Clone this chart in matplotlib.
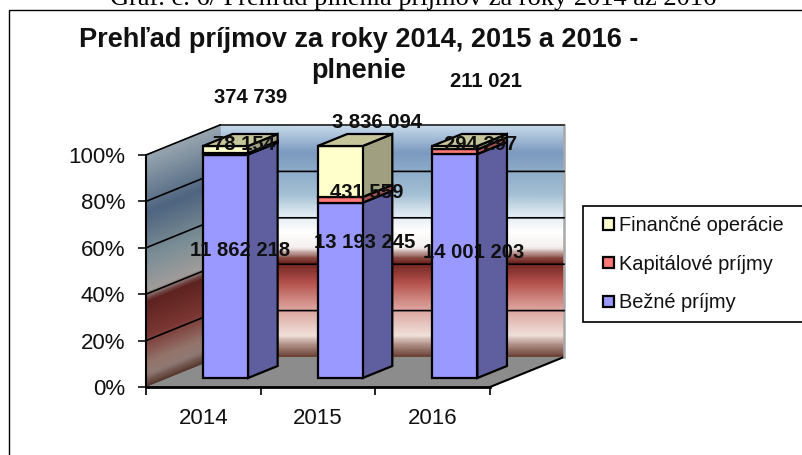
"""
Stacked 3D style percentage columns of yearly revenue, drawn by hand on a flat axes.
"""

import matplotlib

matplotlib.use("Agg")
import matplotlib.pyplot as plt
import numpy as np
from matplotlib.colors import LinearSegmentedColormap, to_rgb
from matplotlib.legend_handler import HandlerPatch
from matplotlib.patches import Patch, Polygon, Rectangle

plt.rcParams["font.family"] = ["Liberation Sans", "DejaVu Sans"]

years = ["2014", "2015", "2016"]
series_names = ["Bežné príjmy", "Kapitálové príjmy", "Finančné operácie"]
bezne = [11862218, 13193245, 14001203]
kapitalove = [78154, 431559, 294297]
financne = [374739, 3836094, 211021]
value_labels = [
    ["11 862 218", "13 193 245", "14 001 203"],
    ["78 154", "431 559", "294 297"],
    ["374 739", "3 836 094", "211 021"],
]
title_lines = ["Prehľad príjmov za roky 2014, 2015 a 2016 -", "plnenie"]
caption = "Graf. č. 6/ Prehľad plnenia príjmov za roky 2014 až 2016"

# styles
front_colors = ["#9999ff", "#ff7878", "#ffffcc"]
side_colors = ["#5f5f9f", "#a05050", "#a0a080"]
top_colors = ["#8080c0", "#c06060", "#c6c69a"]
# label offsets in pixels from the middle of each segment on the front plane
label_offsets = [
    [(37, 25), (47, 57), (41, 23)],
    [(41, 18), (49, 16), (48, 16)],
    [(47, 61), (59, 58), (53, 75)],
]
wall_stops = [
    (0.00, "#c8dcea"), (0.12, "#7c9abf"), (0.30, "#a4c0d4"), (0.38, "#dce8f0"),
    (0.46, "#ffffff"), (0.53, "#f4f0ee"), (0.575, "#8a4a44"), (0.595, "#6e2420"),
    (0.68, "#b4504c"), (0.78, "#d89a94"), (0.91, "#f0e0da"), (0.95, "#b09088"),
    (1.00, "#6e4438"),
]
side_stops = [
    (0.00, "#98a6b0"), (0.25, "#4f6580"), (0.45, "#7d8f96"), (0.59, "#a09c9a"),
    (0.635, "#5e2320"), (0.78, "#7a3632"), (0.90, "#94756c"), (0.95, "#8f7a74"),
    (1.00, "#5a3a30"),
]
DEPTH_X = 74 / (344 / 3)  # category units
DEPTH_Y = 30 / 2.32  # percent units
BAR_WIDTH = 45 / (344 / 3)
BAR_DEPTH = (0.3, 0.7)
W, H = 803, 455


def project(x, y, depth):
    return x + depth * DEPTH_X, y + depth * DEPTH_Y


def make_cmap(stops):
    return LinearSegmentedColormap.from_list("wall", [(p, to_rgb(c)) for p, c in stops])


def draw_wall(ax, x0, x1, d0, d1, stops):
    """Gradient wall between two ground points, seen from the front."""
    frac = np.linspace(0, 1, 300)
    pct = 100 * (1 - frac)
    xs = np.array([project(x0, 0, d0)[0], project(x1, 0, d1)[0]])
    ys = np.array([project(x0, p, d0)[1] for p in pct])
    ys2 = np.array([project(x1, p, d1)[1] for p in pct])
    xx = np.tile(xs, (300, 1))
    yy = np.column_stack((ys, ys2))
    cc = np.column_stack((frac, frac))
    ax.pcolormesh(
        xx, yy, cc, cmap=make_cmap(stops), vmin=0, vmax=1,
        shading="gouraud", zorder=1, clip_on=False,
    )


def square_handle(legend, orig_handle, xdescent, ydescent, width, height, fontsize):
    # small square pushed to the right end of the handle box
    side = 8.0
    return Rectangle((width - side - xdescent, (height - side) / 2 - ydescent), side, side)


fig = plt.figure(figsize=(W / 100, H / 100), dpi=100)
ax = fig.add_axes([146 / W, 1 - 387 / H, 344 / W, 232 / H])
ax.set_xlim(0, 3)
ax.set_ylim(0, 100)
ax.patch.set_visible(False)

# walls and floor
draw_wall(ax, 0, 3, 1, 1, wall_stops)
draw_wall(ax, 0, 0, 0, 1, side_stops)
floor = [project(0, 0, 0), project(3, 0, 0), project(3, 0, 1), project(0, 0, 1)]
ax.add_patch(Polygon(floor, fc="#8c8c8c", ec="none", zorder=1.5, clip_on=False))
ax.plot(*zip(project(3, 0, 0), project(3, 0, 1)), color="black", lw=1.5, zorder=2, clip_on=False)
ax.plot(*zip(project(3, 0, 1), project(3, 100, 1)), color="#a8a8a8", lw=1.8, zorder=2, clip_on=False)
ax.plot(*zip(project(0, 100, 1), project(3, 100, 1)), color="#202020", lw=1.2, zorder=2, clip_on=False)

for pct in range(20, 101, 20):
    pts = [project(0, pct, 0), project(0, pct, 1)]
    if pct < 100:
        pts.append(project(3, pct, 1))
    ax.plot(*zip(*pts), color="black", lw=1.2, zorder=2, clip_on=False)

# columns
stack = np.array([bezne, kapitalove, financne], dtype=float)
shares = 100 * stack / stack.sum(axis=0)
bottoms = np.vstack((np.zeros(3), np.cumsum(shares, axis=0)[:-1]))
d0, d1 = BAR_DEPTH
edge = dict(ec="black", lw=1.6, joinstyle="miter", clip_on=False)

for i in range(len(years)):
    left = i + 0.5 - BAR_WIDTH / 2
    right = left + BAR_WIDTH
    for s in range(3):
        y0 = bottoms[s, i]
        y1 = y0 + shares[s, i]
        z = 3 + s * 0.1
        front = [project(left, y0, d0), project(right, y0, d0), project(right, y1, d0), project(left, y1, d0)]
        side = [project(right, y0, d0), project(right, y0, d1), project(right, y1, d1), project(right, y1, d0)]
        ax.add_patch(Polygon(side, fc=side_colors[s], zorder=z, **edge))
        ax.add_patch(Polygon(front, fc=front_colors[s], zorder=z, **edge))
    top = [project(left, 100, d0), project(right, 100, d0), project(right, 100, d1), project(left, 100, d1)]
    ax.add_patch(Polygon(top, fc=top_colors[2], zorder=3.5, **edge))

# value labels
for s in range(3):
    for i in range(len(years)):
        mid = bottoms[s, i] + shares[s, i] / 2
        dx, dy = label_offsets[s][i]
        ax.annotate(
            value_labels[s][i], xy=(i + 0.5, mid),
            xytext=(dx * 0.72, dy * 0.72), textcoords="offset points",
            ha="center", va="center", fontsize=14.6, fontweight="bold",
            color="#101010", zorder=6, annotation_clip=False,
        )

# axes
for name in ("top", "right"):
    ax.spines[name].set_visible(False)
ax.spines["left"].set_linewidth(1.5)
ax.spines["bottom"].set_linewidth(2)
ax.set_yticks(range(0, 101, 20), [f"{p}%" for p in range(0, 101, 20)])
ax.set_xticks(range(4), [""] * 4)
ax.set_xticks([0.5, 1.5, 2.5], years, minor=True)
ax.tick_params(axis="y", length=6, width=1.2, labelsize=16, pad=9, colors="#111111")
ax.tick_params(axis="x", which="major", length=6, width=1.2)
ax.tick_params(axis="x", which="minor", length=0, labelsize=16, pad=15, labelcolor="#111111")

# legend
handles = [Patch(fc=c, ec="black", lw=1.6) for c in front_colors[::-1]]
legend = fig.legend(
    handles, series_names[::-1],
    handler_map={Patch: HandlerPatch(patch_func=square_handle)},
    loc="upper left", bbox_to_anchor=(583 / W, 1 - 322 / H, 240 / W, 116 / H), mode="expand",
    fontsize=14.4, frameon=True, fancybox=False, framealpha=1, edgecolor="black",
    handlelength=1.05, handleheight=0.6, handletextpad=0.25,
    labelspacing=0.98, borderpad=0.5, borderaxespad=0, labelcolor="#111111",
)
legend.get_frame().set_linewidth(1.2)

# frame, title, caption
fig.add_artist(Rectangle(
    (9 / W, -0.1), 1.1, 1 - 10 / H + 0.1, transform=fig.transFigure,
    fc="none", ec="black", lw=1.0,
))
for line, y_px in zip(title_lines, (40, 71)):
    fig.text(
        359 / W, 1 - y_px / H, line, ha="center", va="center", fontsize=19.5,
        fontweight="bold", color="#111111",
    )
fig.text(
    413 / W, 1 - 5 / H, caption, ha="center", va="baseline", fontsize=19,
    family=["Liberation Serif", "DejaVu Serif"], color="black",
)

fig.savefig("out.png", dpi=100)
